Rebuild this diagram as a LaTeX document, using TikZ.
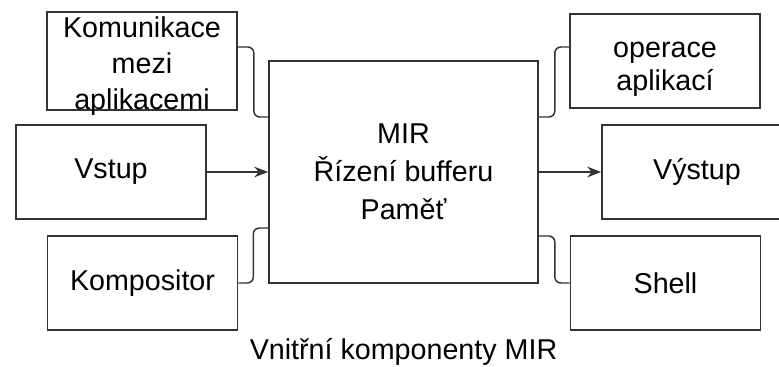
\documentclass[tikz,border=0pt]{standalone}
\usepackage{fontspec}
\setmainfont{Liberation Sans}
\usetikzlibrary{positioning,arrows.meta,calc}
\definecolor{figline}{gray}{0.2}
\tikzset{
  fig/.style={font=\fontsize{21.5pt}{27pt}\selectfont},
  box/.style={draw=figline,line width=1.2pt,minimum width=142.5pt,minimum height=70.5pt,
              align=center,inner sep=0pt,fill=white},
  ln/.style={-{Stealth[length=10.5pt,width=8pt]},line width=1.1pt,figline},
  lnk/.style={line width=1.1pt,figline,rounded corners=4.5pt},
}
\begin{document}
\begin{tikzpicture}[fig,x=0.75pt,y=-0.75pt,
  core/.style={box,minimum width=201.75pt,minimum height=166.5pt,
               font=\fontsize{21.5pt}{28.5pt}\selectfont}]

\useasboundingbox (0,0) rectangle (779,367);
\clip (0,0) rectangle (779,367);

\node[core] (mir) at (403.5,172) {MIR\\Řízení bufferu\\Paměť};

\node[box,text height=73.5pt,text depth=-73.5pt] (kom) at (142,61) {Komunikace\\mezi\\aplikacemi};
\node[box] (vstup) at (111,172) {Vstup};
\node[box] (komp) at (142.5,283) {Kompositor};

\node[box,text height=45pt,text depth=-45pt,
      font=\fontsize{21.5pt}{24.75pt}\selectfont] (oper) at (665,61) {operace\\aplikací};
\node[box] (vystup) at (697,172) {Výstup};
\node[box] (shell) at (665.5,283) {Shell};

\draw[ln] (vstup) -- (mir);
\draw[ln] (mir) -- (vystup);

\draw[lnk] ($(kom.east)+(0,-14)$) -- ++(16,0) |- ($(mir.west)+(0,-55)$);
\draw[lnk] (komp.east) -- ++(15,0) |- ($(mir.west)+(0,56)$);
\draw[lnk] ($(mir.east)+(0,-55)$) -- ++(16,0) |- ($(oper.west)+(0,-14)$);
\draw[lnk] ($(mir.east)+(0,64)$) -- ++(16,0) |- (shell.west);

\node (title) at (403.5,352) {Vnitřní komponenty MIR};

\end{tikzpicture}
\end{document}
